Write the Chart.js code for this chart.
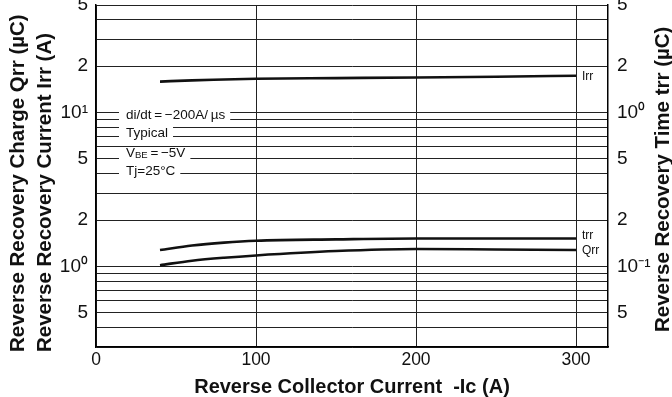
<!DOCTYPE html>
<html>
<head>
<meta charset="utf-8">
<script src="https://cdn.jsdelivr.net/npm/chart.js@4.4.0/dist/chart.umd.min.js"></script>
<style>
  html, body { margin: 0; padding: 0; background: #fff; }
  canvas { display: block; }
</style>
</head>
<body>
<canvas id="myChart" width="672" height="397"></canvas>
<script>
// Reverse collector current -Ic (A)
const icValues = [40, 60, 80, 100, 150, 200, 250, 300];
// Irr (A) and Qrr (uC) on left axis, trr (us) on right axis
const irrValues = [15.9, 16.2, 16.4, 16.6, 16.75, 16.9, 17.1, 17.35];
const qrrValues = [1.02, 1.09, 1.14, 1.18, 1.26, 1.30, 1.29, 1.28];
const trrValues = [0.128, 0.137, 0.143, 0.147, 0.150, 0.152, 0.152, 0.152];
const seriesNames = ['Irr', 'Qrr', 'trr'];

// axis ticks
const xTickValues = [0, 100, 200, 300];
const yGridValues = [0.3, 0.4, 0.5, 0.6, 0.7, 0.8, 0.9, 1, 2, 3, 4, 5, 6, 7, 8, 9, 10, 20, 30, 40, 50];
const yLabelValues = [0.5, 1, 2, 5, 10, 20, 50];
const yLeftLabels = ['5', '10\u2070', '2', '5', '10\u00b9', '2', '5'];
const y1LabelValues = [0.05, 0.1, 0.2, 0.5, 1, 2, 5];
const yRightLabels = ['5', '10\u207b\u00b9', '2', '5', '10\u2070', '2', '5'];

// test conditions ("|" marks the subscript part)
const noteLines = [
  'di/dt\u2009=\u2009\u2212200A/\u2009\u00b5s',
  'Typical',
  'V|BE|\u2009=\u2009\u22125V',
  'Tj=25\u00b0C'
];

const FONT = '"Liberation Sans", Arial, sans-serif';

// titles and notes drawn on the canvas
const textPlugin = {
  id: 'textPlugin',
  afterDatasetsDraw(chart) {
    const ctx = chart.ctx;
    const area = chart.chartArea;
    ctx.save();

    // condition notes with white boxes over the grid
    ctx.textBaseline = 'middle';
    ctx.textAlign = 'left';
    const tx = area.left + 30;
    const ys = [115, 133, 153, 171];
    noteLines.forEach(function (line, i) {
      const parts = line.split('|');
      let w = 0;
      parts.forEach(function (p, k) {
        ctx.font = (k === 1 ? '9.5px ' : '13.5px ') + FONT;
        w += ctx.measureText(p).width;
      });
      ctx.fillStyle = '#fff';
      ctx.fillRect(tx - 7, ys[i] - 6, w + 12, 12);
      ctx.fillStyle = '#111';
      let x = tx;
      parts.forEach(function (p, k) {
        ctx.font = (k === 1 ? '9.5px ' : '13.5px ') + FONT;
        ctx.fillText(p, x, ys[i] + (k === 1 ? 2 : 0));
        x += ctx.measureText(p).width;
      });
    });

    // curve names at the end of each curve
    ctx.font = '12px ' + FONT;
    const xs = chart.scales.x;
    const last = icValues.length - 1;
    const lx = xs.getPixelForValue(icValues[last]) + 6;
    ctx.fillText(seriesNames[0], lx, chart.scales.y.getPixelForValue(irrValues[last]) + 1);
    ctx.fillText(seriesNames[2], lx, chart.scales.y1.getPixelForValue(trrValues[last]) - 3);
    ctx.fillText(seriesNames[1], lx, chart.scales.y.getPixelForValue(qrrValues[last]) + 1);

    // rotated y axis titles
    ctx.font = 'bold 20.5px ' + FONT;
    ctx.textBaseline = 'alphabetic';
    const vt = function (text, x, y) {
      ctx.save();
      ctx.translate(x, y);
      ctx.rotate(-Math.PI / 2);
      ctx.fillText(text, 0, 0);
      ctx.restore();
    };
    vt('Reverse Recovery Charge Qrr (\u00b5C)', 24, 352);
    vt('Reverse Recovery Current Irr (A)', 51, 352);
    vt('Reverse Recovery Time trr (\u00b5C)', 669, 332);
    ctx.restore();
  }
};

const lineStyle = {
  borderColor: '#111',
  borderWidth: 2.6,
  pointRadius: 0,
  fill: false,
  cubicInterpolationMode: 'monotone'
};

function noLabelPadding(scale) {
  scale.paddingTop = 0;
  scale.paddingBottom = 0;
}

const config = {
  type: 'line',
  data: {
    datasets: [
      Object.assign({ label: seriesNames[0], data: icValues.map((x, i) => ({ x: x, y: irrValues[i] })), yAxisID: 'y' }, lineStyle),
      Object.assign({ label: seriesNames[1], data: icValues.map((x, i) => ({ x: x, y: qrrValues[i] })), yAxisID: 'y' }, lineStyle),
      Object.assign({ label: seriesNames[2], data: icValues.map((x, i) => ({ x: x, y: trrValues[i] })), yAxisID: 'y1' }, lineStyle)
    ]
  },
  options: {
    responsive: false,
    animation: false,
    devicePixelRatio: 1,
    layout: { padding: { top: 5, left: 0, right: 0, bottom: 0 } },
    plugins: {
      legend: { display: false },
      tooltip: { enabled: false }
    },
    scales: {
      x: {
        type: 'linear',
        min: 0,
        max: 320,
        afterBuildTicks: function (scale) {
          scale.ticks = xTickValues.map(v => ({ value: v }));
        },
        afterFit: function (scale) { scale.height = 50; },
        grid: { color: '#222', lineWidth: 1, drawTicks: false },
        border: { color: '#000', width: 1.5 },
        ticks: {
          color: '#111',
          padding: 3,
          font: { family: FONT, size: 17.5 },
          maxRotation: 0
        },
        title: {
          display: true,
          text: 'Reverse Collector Current  -Ic (A)',
          color: '#111',
          font: { family: FONT, size: 20, weight: 'bold', lineHeight: 1 },
          padding: { top: 0, bottom: 0 }
        }
      },
      y: {
        type: 'logarithmic',
        position: 'left',
        min: 0.3,
        max: 50,
        afterBuildTicks: function (scale) {
          scale.ticks = yGridValues.map(v => ({ value: v }));
        },
        afterFit: function (scale) { scale.width = 96; noLabelPadding(scale); },
        grid: { color: '#222', lineWidth: 1, drawTicks: false },
        border: { color: '#000', width: 1.5 },
        ticks: {
          color: '#111',
          padding: 8,
          autoSkip: false,
          font: { family: FONT, size: 19 },
          callback: function (value) {
            const k = yLabelValues.findIndex(v => Math.abs(v - value) < 1e-9);
            return k >= 0 ? yLeftLabels[k] : '';
          }
        }
      },
      y1: {
        type: 'logarithmic',
        position: 'right',
        min: 0.03,
        max: 5,
        afterBuildTicks: function (scale) {
          scale.ticks = y1LabelValues.map(v => ({ value: v }));
        },
        afterFit: function (scale) { scale.width = 64; noLabelPadding(scale); },
        grid: { display: false, drawTicks: false },
        border: { color: '#000', width: 1.5 },
        ticks: {
          color: '#111',
          padding: 9,
          autoSkip: false,
          font: { family: FONT, size: 19 },
          callback: function (value) {
            const k = y1LabelValues.findIndex(v => Math.abs(v - value) < 1e-9);
            return k >= 0 ? yRightLabels[k] : '';
          }
        }
      }
    }
  },
  plugins: [textPlugin]
};

const ctx = document.getElementById('myChart').getContext('2d');
const myChart = new Chart(ctx, config);
</script>
</body>
</html>
